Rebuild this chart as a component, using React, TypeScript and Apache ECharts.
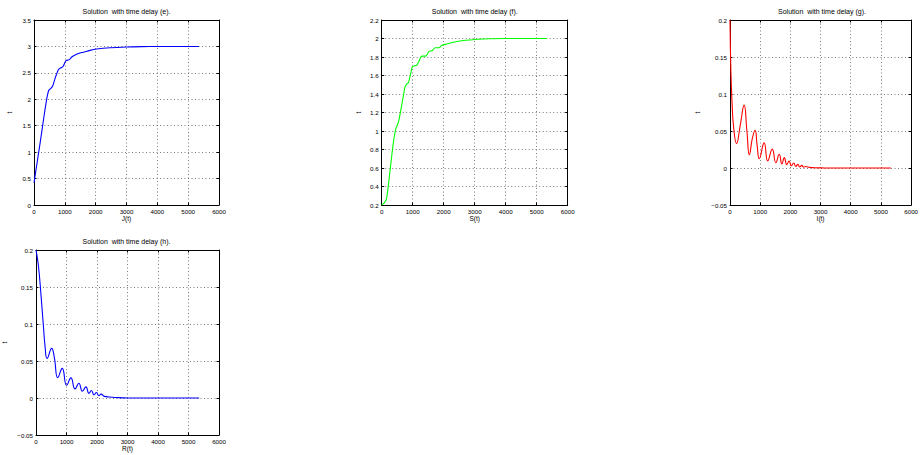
import React, { useEffect, useRef } from "react";
import * as echarts from "echarts";

// ---- Data ----
const T_J = [0, 100, 200, 300, 411, 480, 541, 605, 681, 789, 850, 897, 951, 1038, 1146, 1222, 1330, 1492, 1600, 1816, 2032, 2465, 3005, 3500, 4000, 4500, 5350];
const J = [0.42, 0.8, 1.18, 1.58, 2.0, 2.17, 2.2, 2.25, 2.39, 2.56, 2.59, 2.6, 2.63, 2.73, 2.75, 2.8, 2.84, 2.875, 2.89, 2.925, 2.95, 2.975, 2.99, 2.997, 3.0, 3.0, 3.0];

const T_S = [0, 75, 150, 204, 258, 313, 366, 421, 460, 506, 551, 640, 700, 753, 810, 860, 935, 989, 1060, 1129, 1210, 1290, 1350, 1419, 1527, 1634, 1720, 1849, 1935, 2097, 2473, 3011, 3500, 4000, 5330];
const S = [0.2, 0.22, 0.26, 0.38, 0.54, 0.7, 0.85, 0.97, 1.03, 1.065, 1.11, 1.27, 1.38, 1.476, 1.51, 1.52, 1.62, 1.695, 1.705, 1.71, 1.76, 1.81, 1.81, 1.81, 1.86, 1.87, 1.9, 1.9, 1.925, 1.94, 1.97, 1.99, 1.997, 2.0, 2.0];

const T_I = [0, 30, 70, 120, 217, 340, 467, 560, 641, 740, 830, 900, 970, 1130, 1250, 1400, 1520, 1630, 1720, 1800, 1880, 1960, 2030, 2110, 2180, 2250, 2310, 2380, 2440, 2500, 2650, 2800, 3000, 3400, 5330];
const I = [0.2, 0.13, 0.087, 0.055, 0.033, 0.058, 0.085, 0.05, 0.018, 0.04, 0.051, 0.03, 0.0126, 0.034, 0.0095, 0.0255, 0.007, 0.0185, 0.0055, 0.014, 0.0045, 0.0095, 0.003, 0.0068, 0.0022, 0.005, 0.0015, 0.0035, 0.001, 0.002, 0.0008, 0.0004, 0.0002, 0, 0];

const T_R = [0, 81, 168, 243, 297, 365, 514, 600, 715, 860, 1005, 1145, 1280, 1405, 1522, 1638, 1735, 1818, 1900, 1984, 2059, 2135, 2243, 2405, 2600, 3000, 3500, 5350];
const R = [0.2, 0.178, 0.137, 0.097, 0.07, 0.0535, 0.067, 0.055, 0.0275, 0.04, 0.0172, 0.0272, 0.0123, 0.0199, 0.0092, 0.015, 0.0064, 0.0101, 0.0042, 0.0074, 0.003, 0.0052, 0.0022, 0.0013, 0.0007, 0.0001, 0, 0];

const X_TICKS = [0, 6000, 1000];

const PANELS = [
  { title: "Solution  with time delay (e).", xName: "J(t)", t: T_J, v: J, color: "#0000ff", yMin: 0, yMax: 3.5, yStep: 0.5, grid: [34, 20, 185, 185], nameGap: 21, smooth: 0.3 },
  { title: "Solution  with time delay (f).", xName: "S(t)", t: T_S, v: S, color: "#00ff00", yMin: 0.2, yMax: 2.2, yStep: 0.2, grid: [381.7, 20, 186, 185], nameGap: 20, smooth: 0.3 },
  { title: "Solution  with time delay (g).", xName: "I(t)", t: T_I, v: I, color: "#ff0000", yMin: -0.05, yMax: 0.2, yStep: 0.05, grid: [730, 20, 184, 185], nameGap: 29, smooth: 0.5 },
  { title: "Solution  with time delay (h).", xName: "R(t)", t: T_R, v: R, color: "#0000ff", yMin: -0.05, yMax: 0.2, yStep: 0.05, grid: [34, 250, 185, 185], nameGap: 28, smooth: 0.5 },
];

const FONT = "Liberation Sans, Arial, sans-serif";

function fmtNum(v: number) {
  const r = Math.round(v * 1000) / 1000;
  return String(r).replace("-", "\u2212");
}

export default function App() {
  const ref = useRef<HTMLDivElement>(null);
  useEffect(() => {
    if (!ref.current) return;
    const chart = echarts.init(ref.current, undefined, { renderer: "svg" });
    const grids: any[] = [];
    const xAxes: any[] = [];
    const yAxes: any[] = [];
    const series: any[] = [];
    const titles: any[] = [];
    const gridLine = { show: true, lineStyle: { color: "#444", width: 0.7, type: [1, 2.5] } };
    PANELS.forEach((p, i) => {
      const [l, t, w, h] = p.grid;
      grids.push({ left: l, top: t, width: w, height: h, show: false, containLabel: false });
      titles.push({
        text: p.title,
        left: l + w / 2,
        top: t - 12,
        padding: 0,
        textAlign: "center",
        textStyle: { fontSize: 7, fontWeight: "normal", color: "#000", fontFamily: FONT },
      });
      const xBase = { type: "value", gridIndex: i, min: X_TICKS[0], max: X_TICKS[1], interval: X_TICKS[2] };
      xAxes.push({
        ...xBase,
        position: "bottom",
        name: p.xName,
        nameLocation: "middle",
        nameGap: 9.5,
        nameTextStyle: { fontSize: 6.5, color: "#000", fontFamily: FONT },
        axisLine: { show: true, onZero: false, lineStyle: { color: "#000", width: 1 } },
        axisTick: { show: true, inside: true, length: 2.5, lineStyle: { color: "#000" } },
        axisLabel: { show: true, margin: 3.5, fontSize: 6.2, color: "#000", fontFamily: FONT, formatter: (v: number) => String(v) },
        splitLine: gridLine,
      });
      xAxes.push({
        ...xBase,
        position: "top",
        axisLine: { show: true, onZero: false, lineStyle: { color: "#000", width: 1 } },
        axisTick: { show: true, inside: true, length: 2.5, lineStyle: { color: "#000" } },
        axisLabel: { show: false },
        splitLine: { show: false },
      });
      const yBase = { type: "value", gridIndex: i, min: p.yMin, max: p.yMax, interval: p.yStep };
      yAxes.push({
        ...yBase,
        position: "left",
        name: "t",
        nameLocation: "middle",
        nameGap: p.nameGap,
        nameRotate: 90,
        nameTextStyle: { fontSize: 6.5, color: "#000", fontFamily: FONT },
        axisLine: { show: true, onZero: false, lineStyle: { color: "#000", width: 1 } },
        axisTick: { show: true, inside: true, length: 2.5, lineStyle: { color: "#000" } },
        axisLabel: { show: true, margin: 3, fontSize: 6.2, color: "#000", fontFamily: FONT, formatter: (v: number) => fmtNum(v) },
        splitLine: gridLine,
      });
      yAxes.push({
        ...yBase,
        position: "right",
        axisLine: { show: true, onZero: false, lineStyle: { color: "#000", width: 1 } },
        axisTick: { show: true, inside: true, length: 2.5, lineStyle: { color: "#000" } },
        axisLabel: { show: false },
        splitLine: { show: false },
      });
      series.push({
        type: "line",
        xAxisIndex: i * 2,
        yAxisIndex: i * 2,
        data: p.t.map((x, k) => [x, p.v[k]]),
        showSymbol: false,
        symbol: "none",
        smooth: p.smooth,
        lineStyle: { color: p.color, width: 1.1 },
        clip: true,
      });
    });
    chart.setOption({
      animation: false,
      backgroundColor: "#fff",
      title: titles,
      grid: grids,
      xAxis: xAxes,
      yAxis: yAxes,
      series,
    });
    return () => chart.dispose();
  }, []);
  return (
    <div
      ref={ref}
      style={{ position: "fixed", left: 0, top: 0, width: 921, height: 455, background: "#fff" }}
    />
  );
}
